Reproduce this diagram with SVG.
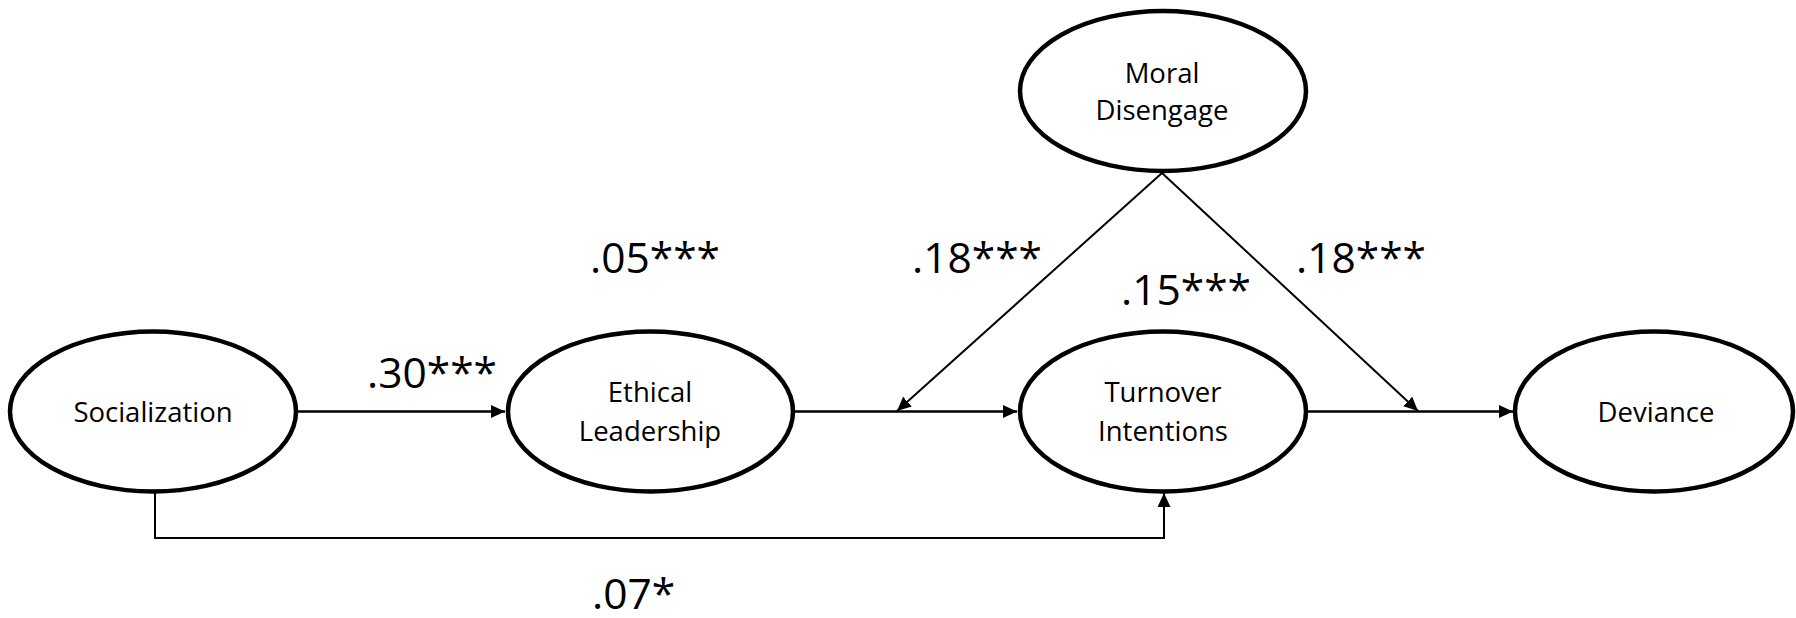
<svg xmlns="http://www.w3.org/2000/svg" width="1796" height="618" viewBox="0 0 1796 618">
<style>
.node ellipse{fill:#fff;stroke:#000;stroke-width:4.5}
.lbl{font-family:"Open Sans","Noto Sans",sans-serif;font-size:27.5px;fill:#000;text-anchor:middle}
.coef{font-family:"Open Sans","Noto Sans",sans-serif;font-size:42.5px;fill:#000}
.main{stroke:#000;stroke-width:2.7;fill:none}
.thin{stroke:#000;stroke-width:2;fill:none}
</style>
<defs>
<marker id="ah" markerUnits="userSpaceOnUse" markerWidth="15" markerHeight="14" refX="14" refY="6.5" orient="auto">
<path d="M0,0 L14,6.5 L0,13 Z" fill="#000"/>
</marker>
</defs>
<rect width="1796" height="618" fill="#fff"/>
<g id="connectors">
<line class="main" x1="298" y1="411.5" x2="505" y2="411.5" marker-end="url(#ah)"/>
<line class="main" x1="795" y1="411.5" x2="1017" y2="411.5" marker-end="url(#ah)"/>
<line class="main" x1="1308" y1="411.5" x2="1513" y2="411.5" marker-end="url(#ah)"/>
<line class="thin" x1="1162" y1="173" x2="897" y2="411" marker-end="url(#ah)"/>
<line class="thin" x1="1162" y1="173" x2="1418" y2="411" marker-end="url(#ah)"/>
<polyline class="thin" points="155,493 155,538 1164,538 1164,493" marker-end="url(#ah)"/>
</g>
<g id="socialization" class="node">
<ellipse cx="153" cy="411.5" rx="143" ry="80"/>
<text class="lbl" x="153" y="422">Socialization</text>
</g>
<g id="ethical-leadership" class="node">
<ellipse cx="650.5" cy="411.5" rx="142.5" ry="80"/>
<text class="lbl" x="650" y="402">Ethical</text>
<text class="lbl" x="650" y="441">Leadership</text>
</g>
<g id="turnover-intentions" class="node">
<ellipse cx="1163" cy="411.5" rx="143" ry="80"/>
<text class="lbl" x="1163" y="402">Turnover</text>
<text class="lbl" x="1163" y="441">Intentions</text>
</g>
<g id="deviance" class="node">
<ellipse cx="1654" cy="411.5" rx="139" ry="80"/>
<text class="lbl" x="1656" y="422">Deviance</text>
</g>
<g id="moral-disengage" class="node">
<ellipse cx="1163" cy="91" rx="143" ry="80"/>
<text class="lbl" x="1162" y="83">Moral</text>
<text class="lbl" x="1162" y="120">Disengage</text>
</g>
<g id="coefficients">
<text class="coef" x="367" y="388">.30***</text>
<text class="coef" x="590" y="273">.05***</text>
<text class="coef" x="912" y="273">.18***</text>
<text class="coef" x="1121" y="305">.15***</text>
<text class="coef" x="1296" y="273">.18***</text>
<text class="coef" x="592" y="609">.07*</text>
</g>
</svg>
